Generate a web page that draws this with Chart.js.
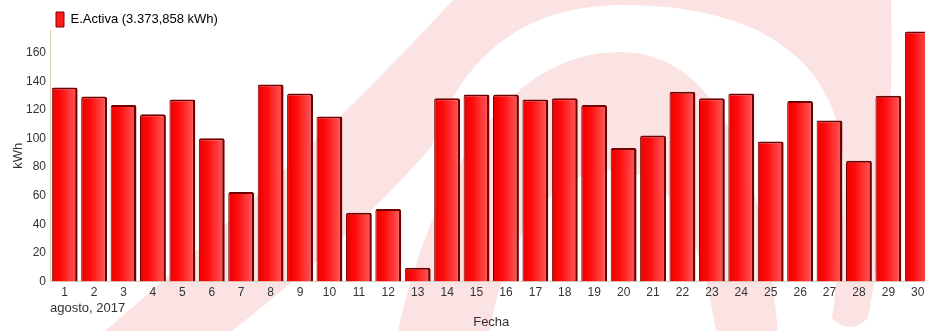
<!DOCTYPE html>
<html>
<head>
<meta charset="utf-8">
<script src="https://cdn.jsdelivr.net/npm/chart.js@4.4.1/dist/chart.umd.min.js"></script>
<style>
  html, body { margin: 0; padding: 0; background: #fff; overflow: hidden; width: 925px; height: 331px; }
  #wrap { position: absolute; left: 0; top: 0; width: 934px; height: 331px; }
</style>
</head>
<body>
<div id="wrap"><canvas id="c" width="934" height="331"></canvas></div>
<script>
// Daily active energy, August 2017
const days = ['1','2','3','4','5','6','7','8','9','10','11','12','13','14','15',
              '16','17','18','19','20','21','22','23','24','25','26','27','28','29','30'];
const energyKWh = [135.8, 129.5, 123.6, 117.0, 127.4, 100.3, 62.7, 137.9, 131.6, 115.4,
                   48.1, 50.8, 9.7, 128.3, 130.9, 130.9, 127.4, 128.3, 123.5, 93.5,
                   102.2, 132.8, 128.3, 131.6, 98.0, 126.3, 112.6, 84.5, 130.0, 175.0];
const yTickStep = 20;
const yMax = 176;
const seriesName = 'E.Activa (3.373,858 kWh)';
const monthLabel = 'agosto, 2017';
const xTitle = 'Fecha';
const yTitle = 'kWh';

Chart.defaults.font.family = "'Liberation Sans', Arial, sans-serif";
Chart.defaults.font.size = 12;
Chart.defaults.color = '#333';

// faint company mark painted behind the plot
const watermark = {
  id: 'watermark',
  beforeDraw(chart) {
    const c = chart.ctx;
    c.save();
    c.fillStyle = '#fbe3e3';
    // outer swoosh
    c.beginPath();
    c.moveTo(105, 331);
    c.quadraticCurveTo(315, 150, 453, 0);
    c.lineTo(453, -10);
    c.lineTo(892, -10);
    c.lineTo(891, 0);
    c.quadraticCurveTo(895, 180, 868, 318);
    c.quadraticCurveTo(850, 336, 832, 318);
    c.quadraticCurveTo(848, 200, 842, 146);
    c.bezierCurveTo(830, 60, 760, 5, 623, 5);
    c.bezierCurveTo(520, 5, 460, 60, 432, 146);
    c.quadraticCurveTo(360, 230, 232, 331);
    c.closePath();
    c.fill();
    // inner arch
    c.beginPath();
    c.moveTo(398, 331);
    c.bezierCurveTo(430, 190, 500, 52, 620, 52);
    c.bezierCurveTo(700, 52, 760, 130, 778, 331);
    c.lineTo(716, 331);
    c.bezierCurveTo(700, 230, 670, 170, 612, 170);
    c.bezierCurveTo(550, 170, 505, 240, 490, 331);
    c.closePath();
    c.fill();
    c.restore();
  }
};

function barFill(ctx) {
  const chart = ctx.chart;
  if (!chart.chartArea || ctx.type !== 'data' || !chart.scales.x) return '#ff1414';
  const x = chart.scales.x.getPixelForValue(ctx.dataIndex);
  const half = 13;
  const g = chart.ctx.createLinearGradient(x - half, 0, x + half, 0);
  g.addColorStop(0, '#e80000');
  g.addColorStop(0.35, '#ff0b0b');
  g.addColorStop(0.85, '#ff4c4c');
  g.addColorStop(1, '#ff3a3a');
  return g;
}

new Chart(document.getElementById('c'), {
  type: 'bar',
  data: {
    labels: days,
    datasets: [{
      label: seriesName,
      data: energyKWh,
      backgroundColor: barFill,
      borderColor: '#700000',
      borderWidth: { top: 2, right: 2.5, left: 1, bottom: 0 },
      borderSkipped: false,
      borderRadius: { topLeft: 2, topRight: 2, bottomLeft: 0, bottomRight: 0 },
      categoryPercentage: 1,
      barPercentage: 0.88
    }]
  },
  options: {
    responsive: false,
    animation: false,
    layout: { padding: { top: 6, right: 1.5, bottom: 0, left: 0 } },
    plugins: {
      tooltip: { enabled: false },
      legend: {
        position: 'top',
        align: 'start',
        fullSize: false,
        maxHeight: 24,
        labels: {
          boxWidth: 8,
          boxHeight: 15,
          padding: 6,
          color: '#222',
          font: { size: 13 },
          generateLabels: () => [{
            text: seriesName,
            fillStyle: '#ff1a1a',
            strokeStyle: '#8a0000',
            lineWidth: 1,
            hidden: false,
            datasetIndex: 0
          }]
        }
      }
    },
    scales: {
      x: {
        offset: true,
        grid: { display: false, drawTicks: false },
        border: { display: true, color: '#d9d2bf', width: 1 },
        ticks: { padding: 3.8, autoSkip: false, maxRotation: 0, minRotation: 0, color: '#333', font: { size: 12 } },
        afterFit(scale) { scale.height = 18.7; }
      },
      x2: {
        type: 'category',
        labels: days,
        position: 'bottom',
        offset: false,
        weight: 1,
        grid: { display: false, drawTicks: false },
        border: { display: false },
        ticks: {
          autoSkip: false, maxRotation: 0, minRotation: 0, align: 'start', padding: 0,
          color: '#333', font: { size: 13 },
          callback: (v, i) => (i === 0 ? monthLabel : '')
        },
        title: { display: true, text: xTitle, color: '#333', font: { size: 13 }, padding: { top: 0, bottom: 1.2 } },
        afterFit(scale) { scale.height = 30.8; }
      },
      y: {
        min: 0,
        max: yMax,
        grid: { display: false, drawTicks: false },
        border: { display: true, color: '#d9d2bf', width: 1 },
        ticks: { stepSize: yTickStep, includeBounds: false, padding: 4, color: '#333', font: { size: 12 } },
        title: { display: true, text: yTitle, color: '#333', font: { size: 13 }, padding: { top: 10.2, bottom: 0 } },
        afterFit(scale) { scale.width = 50; }
      }
    }
  },
  plugins: [watermark]
});
</script>
</body>
</html>
